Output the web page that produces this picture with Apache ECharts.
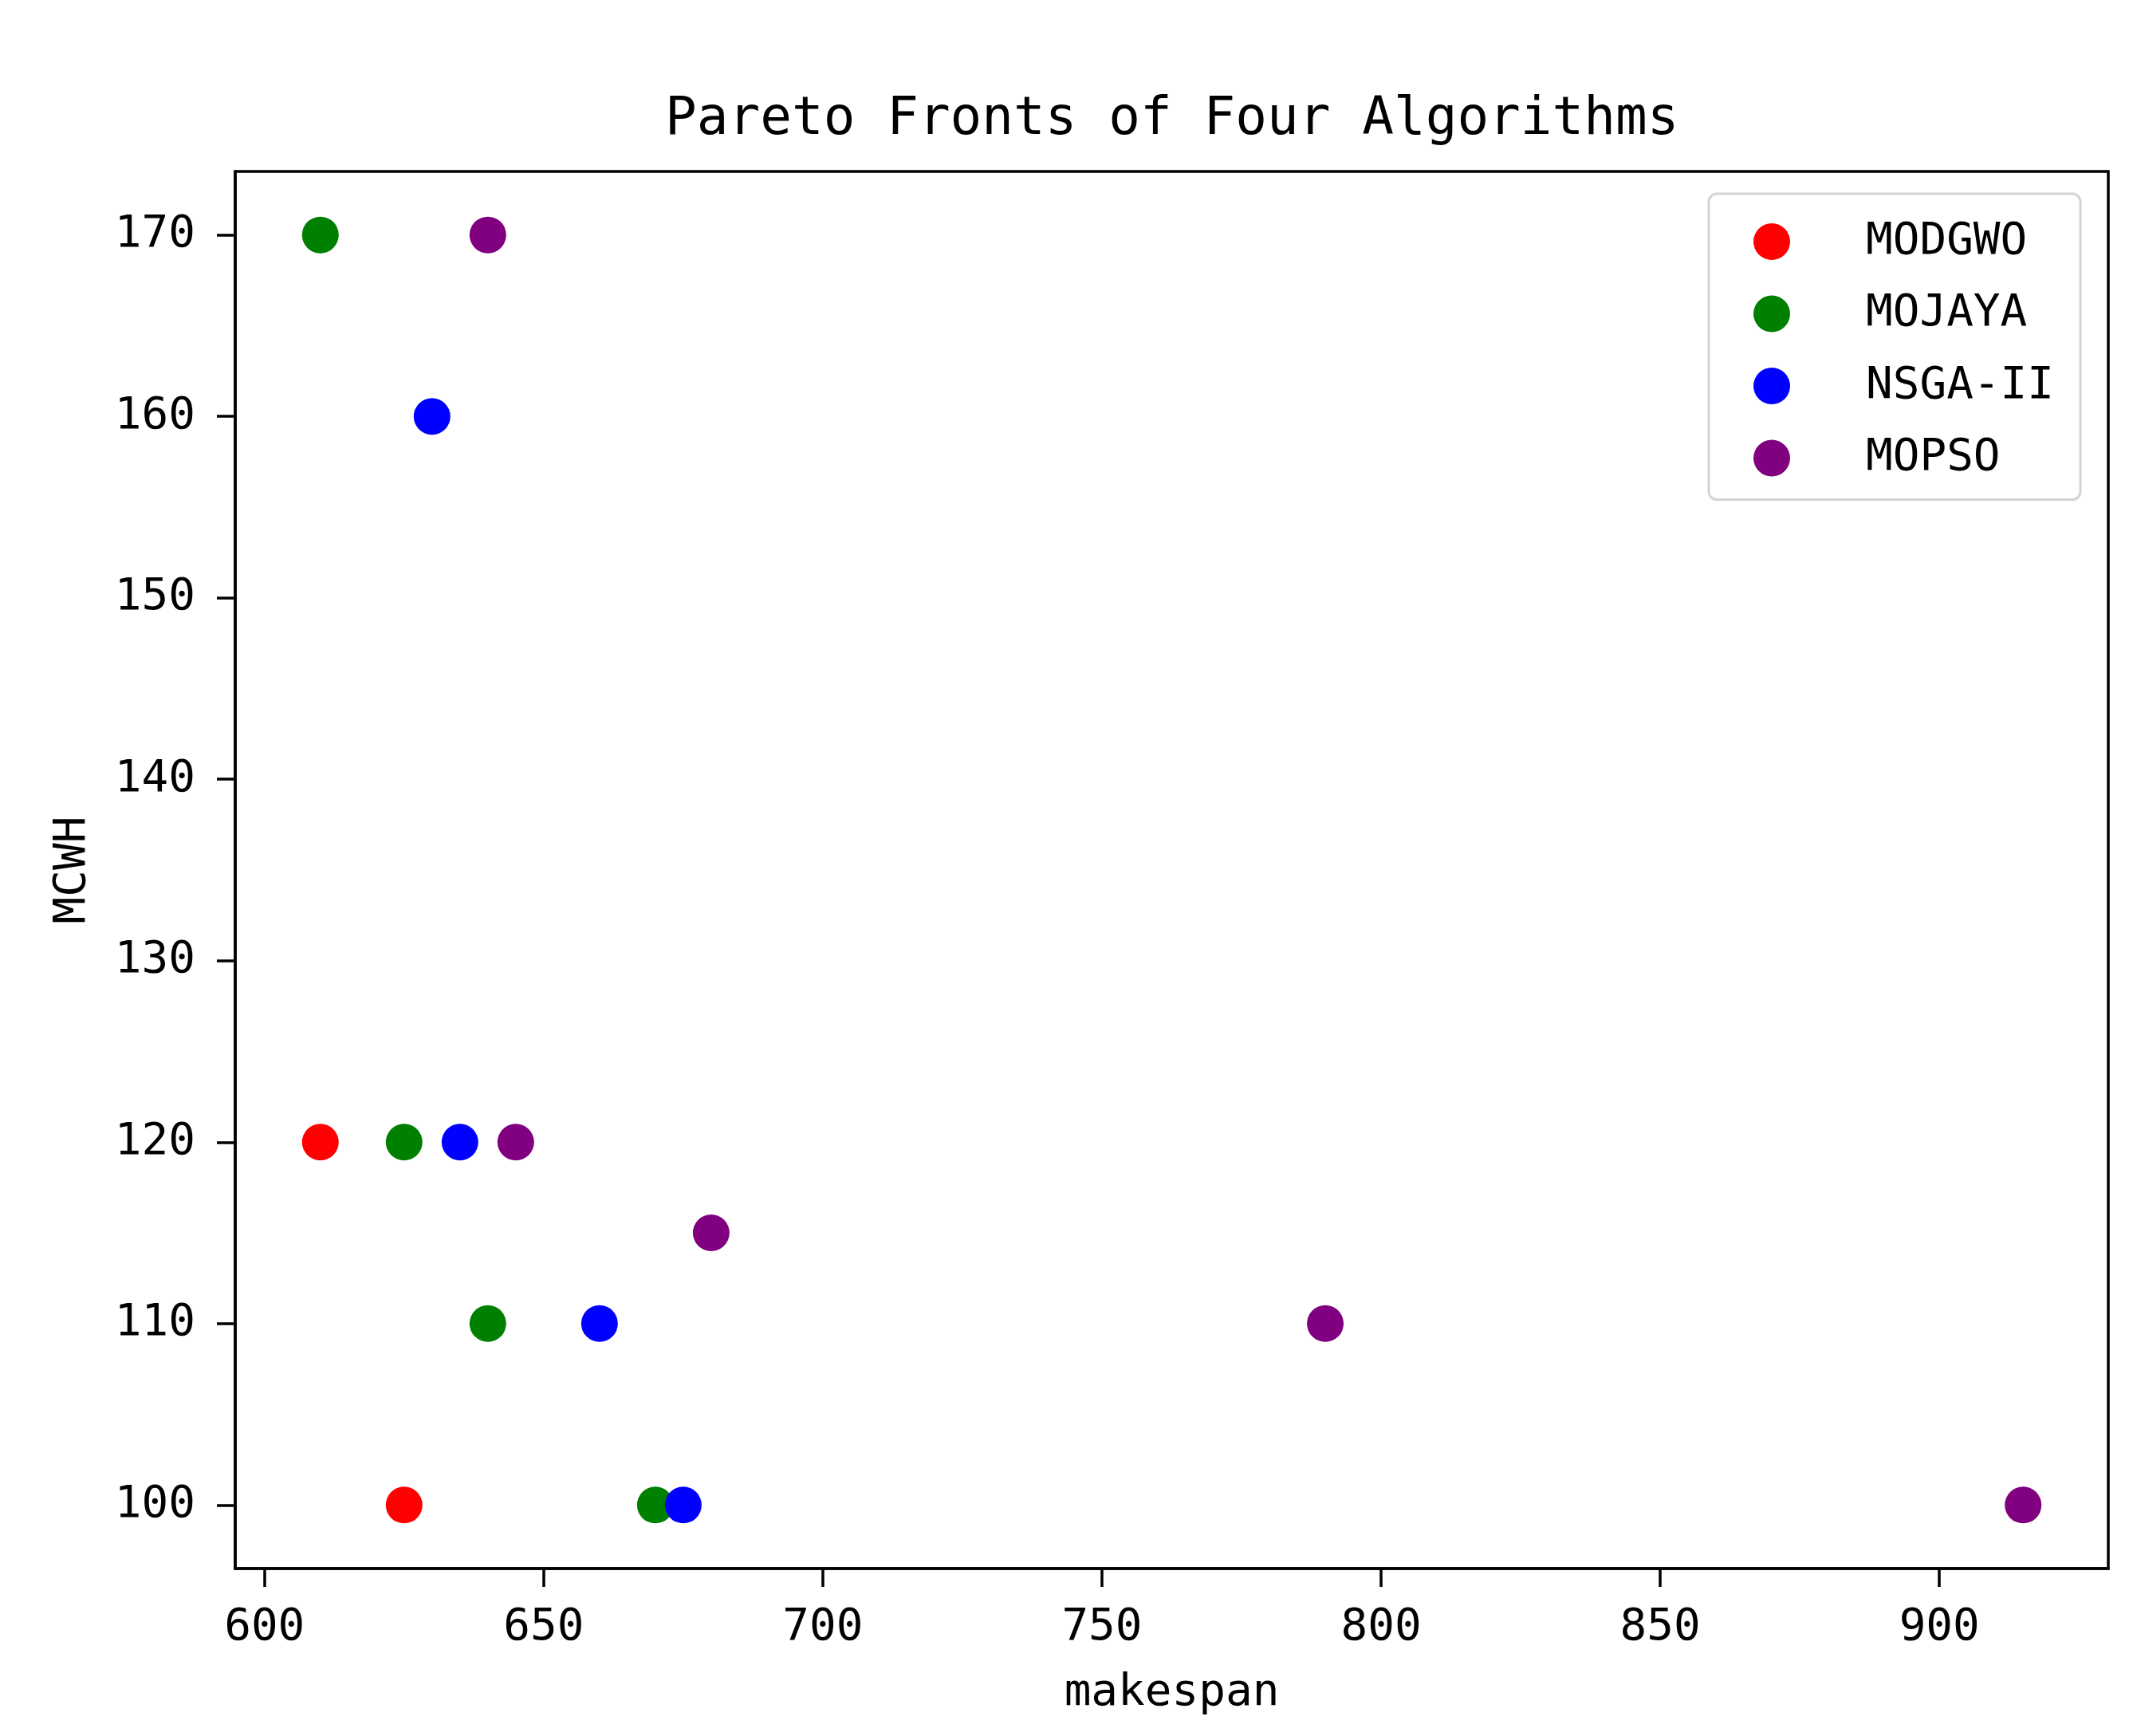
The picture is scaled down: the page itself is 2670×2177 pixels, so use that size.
<!DOCTYPE html>
<html>
<head>
<meta charset="utf-8">
<script src="https://cdn.jsdelivr.net/npm/echarts@6/dist/echarts.min.js"></script>
<style>
  html, body { margin: 0; padding: 0; background: #fff; }
  #main { width: 2670px; height: 2177px; }
</style>
</head>
<body>
<div id="main"></div>
<script>
// data: [makespan, MCWH]
const modgwo = [[610, 120], [625, 100]]
const mojaya = [[610, 170], [625, 120], [640, 110], [670, 100]]
const nsga2 = [[630, 160], [635, 120], [660, 110], [675, 100]]
const mopso = [[640, 170], [645, 120], [680, 115], [790, 110], [915, 100]]

const xTicks = [600, 650, 700, 750, 800, 850, 900]
const yTicks = [100, 110, 120, 130, 140, 150, 160, 170]

const font = 'DejaVu Sans Mono'
const black = '#000'

const chart = echarts.init(document.getElementById('main'))

const mkSeries = (name, data, color) => ({
  name: name,
  type: 'scatter',
  data: data,
  symbol: 'circle',
  symbolSize: 46,
  itemStyle: { color: color, opacity: 1 },
  emphasis: { disabled: true }
})

chart.setOption({
  backgroundColor: '#fff',
  animation: false,
  title: {
    // centred over the plot area, not the page
    text: 'Pareto Fronts of Four Algorithms',
    left: 834,
    top: 118,
    padding: 0,
    textStyle: { fontFamily: font, fontSize: 66, fontWeight: 'normal', color: black, lineHeight: 66 }
  },
  legend: {
    orient: 'vertical',
    right: 61,
    top: 243,
    padding: [32, 33, 24, 56],
    itemGap: 34.5,
    itemWidth: 46,
    itemHeight: 46,
    icon: 'circle',
    backgroundColor: '#fff',
    borderColor: '#d4d4d4',
    borderWidth: 3,
    borderRadius: 10,
    textStyle: { fontFamily: font, fontSize: 56, color: black, padding: [0, 0, 0, 90] },
    data: ['MODGWO', 'MOJAYA', 'NSGA-II', 'MOPSO']
  },
  grid: {
    left: 295,
    right: 26,
    top: 215,
    bottom: 210,
    show: true,
    borderColor: black,
    borderWidth: 3.5,
    backgroundColor: 'transparent'
  },
  xAxis: {
    type: 'value',
    min: 594.75,
    max: 930.25,
    name: 'makespan',
    nameLocation: 'middle',
    nameGap: 128,
    nameTextStyle: { fontFamily: font, fontSize: 56, color: black },
    axisLine: { show: true, onZero: false, lineStyle: { color: black, width: 3.5 } },
    axisTick: { show: true, inside: false, length: 23, customValues: xTicks, lineStyle: { color: black, width: 3.5 } },
    axisLabel: { margin: 46, customValues: xTicks, fontFamily: font, fontSize: 56, color: black },
    splitLine: { show: false }
  },
  yAxis: {
    type: 'value',
    min: 96.5,
    max: 173.5,
    name: 'MCWH',
    nameLocation: 'middle',
    nameGap: 176,
    nameRotate: 90,
    nameTextStyle: { fontFamily: font, fontSize: 56, color: black },
    axisLine: { show: true, onZero: false, lineStyle: { color: black, width: 3.5 } },
    axisTick: { show: true, inside: false, length: 23, customValues: yTicks, lineStyle: { color: black, width: 3.5 } },
    axisLabel: { margin: 50, customValues: yTicks, fontFamily: font, fontSize: 56, color: black },
    splitLine: { show: false }
  },
  series: [
    mkSeries('MODGWO', modgwo, '#ff0000'),
    mkSeries('MOJAYA', mojaya, '#008000'),
    mkSeries('NSGA-II', nsga2, '#0000ff'),
    mkSeries('MOPSO', mopso, '#800080')
  ]
})
</script>
</body>
</html>
